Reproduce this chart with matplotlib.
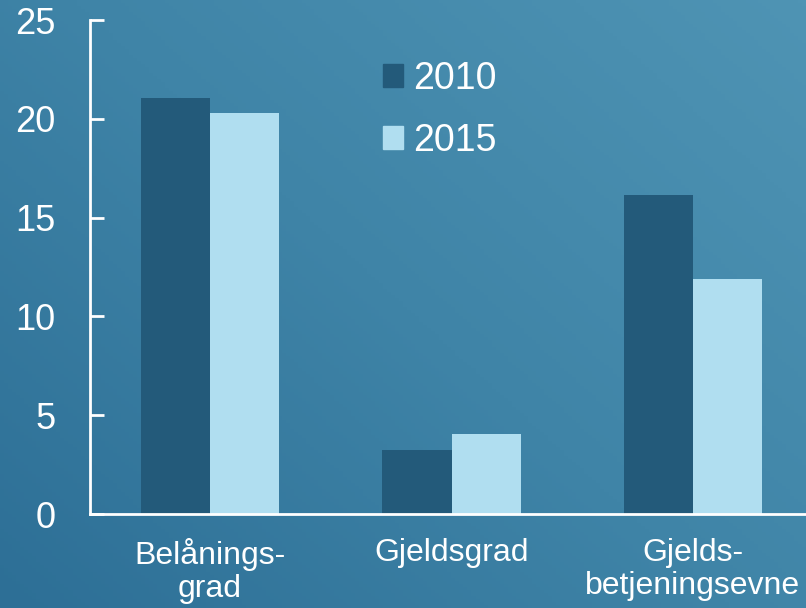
import matplotlib.pyplot as plt
import numpy as np
from matplotlib.colors import LinearSegmentedColormap
from matplotlib.patches import Patch

categories = ['Belånings-\ngrad', 'Gjeldsgrad', 'Gjelds-\nbetjeningsevne']
years = ['2010', '2015']
vals_2010 = [21.05, 3.25, 16.15]
vals_2015 = [20.3, 4.05, 11.9]
yticks = [0, 5, 10, 15, 20, 25]

dark = '#235a7a'
light = '#b0def0'

plt.rcParams['font.family'] = ['Liberation Sans', 'DejaVu Sans']

W, H = 806, 608
fig = plt.figure(figsize=(W / 100, H / 100), dpi=100)

# diagonal background gradient, dark bottom-left -> light top-right
bg = fig.add_axes([0, 0, 1, 1], zorder=0)
xx, yy = np.meshgrid(np.linspace(0, 1, 200), np.linspace(0, 1, 200))
grad = (xx * 0.55 + yy * 0.45)
cmap = LinearSegmentedColormap.from_list('bg', ['#2d6f96', '#3f84a7', '#4f94b4'])
bg.imshow(grad, cmap=cmap, origin='lower', extent=[0, 1, 0, 1], aspect='auto')
bg.axis('off')

ax_l = 90 / W
ax_b = (H - 514) / H
ax_h = (514 - 20) / H
ax_w = (806 - 90) / W
ax = fig.add_axes([ax_l, ax_b, ax_w, ax_h], zorder=1)
ax.patch.set_alpha(0)

x = np.arange(len(categories))
bw = 0.286
ax.bar(x - bw / 2, vals_2010, bw, color=dark, label=years[0])
ax.bar(x + bw / 2, vals_2015, bw, color=light, label=years[1])

ax.set_ylim(0, 25)
ax.set_xlim(-0.497, 2.468)
ax.set_yticks(yticks)
ax.set_xticks(x)
ax.set_xticklabels(categories, fontsize=23, color='white', linespacing=1.15)

for s in ['top', 'right']:
    ax.spines[s].set_visible(False)
for s in ['left', 'bottom']:
    ax.spines[s].set_color('white')
    ax.spines[s].set_linewidth(2)

ax.tick_params(axis='y', direction='in', length=10, width=2, color='white',
               labelcolor='white', labelsize=26, pad=25)
ax.tick_params(axis='x', length=0, pad=17)

handles = [Patch(color=dark), Patch(color=light)]
fig.legend(handles, years, loc='upper left', bbox_to_anchor=(349 / W, 1 - 27 / H),
           frameon=False, fontsize=27, labelcolor='white', handlelength=0.55,
           handleheight=0.55, handletextpad=0.25, labelspacing=0.7)

fig.savefig('out.png', dpi=100)
